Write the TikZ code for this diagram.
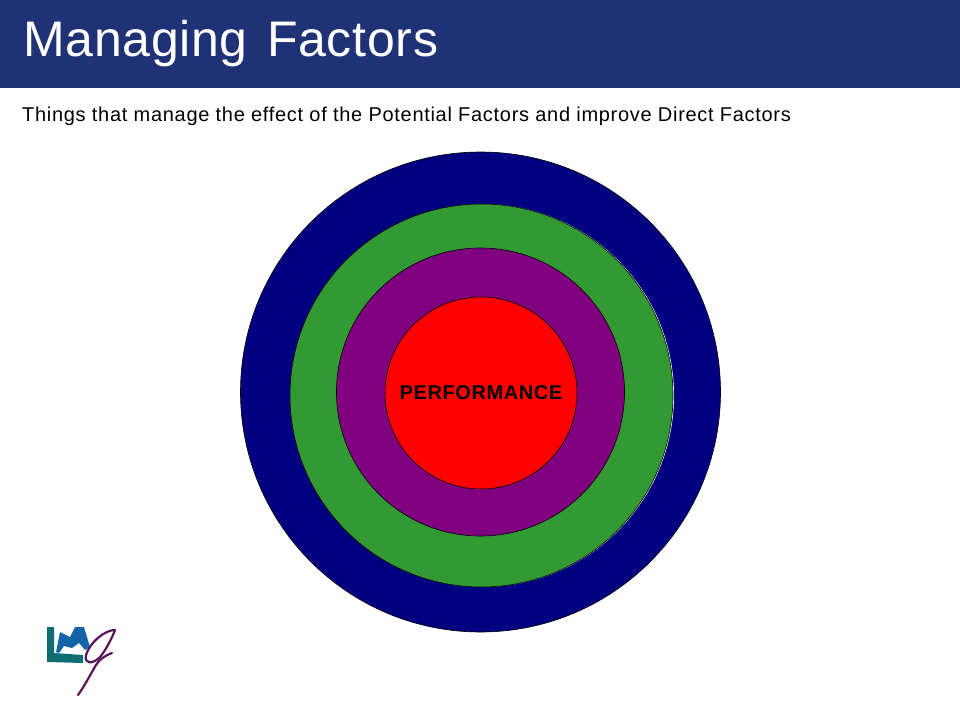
\documentclass[tikz,border=0pt]{standalone}
\usepackage{fontspec}
\setmainfont{Liberation Sans}
\usetikzlibrary{positioning}
\definecolor{bannerblue}{RGB}{31,50,117}
\definecolor{ringblue}{RGB}{0,0,128}
\definecolor{ringgreen}{RGB}{51,153,51}
\definecolor{ringpurple}{RGB}{128,0,128}
\definecolor{logoteal}{RGB}{15,110,115}
\definecolor{logoblue}{RGB}{20,100,170}
\definecolor{logomaroon}{RGB}{90,20,90}
\tikzset{
    ring/.style={circle, draw=black, line width=0.6pt, inner sep=0pt},
    strokeg/.style={draw=logomaroon, line width=2.2pt, line cap=round, line join=round},
}

\begin{document}
\begin{tikzpicture}[x=1pt, y=-1pt]
        \useasboundingbox (0, 0) rectangle (960, 720);
        \fill[bannerblue] (0, 0) rectangle (960, 88);
        \node[anchor=base west, text=white, inner sep=0pt, font=\addfontfeature{LetterSpace=1.4}\fontsize{50}{50}\selectfont] (title) at (23, 56) {Managing\hspace{5pt} Factors};
        \node[anchor=base west, inner sep=0pt, font=\addfontfeature{LetterSpace=3.5}\fontsize{20}{20}\selectfont] (subtitle) at (22, 121.5) {Things that manage the effect of the Potential Factors and improve Direct Factors};

        \node[ring, fill=ringblue, minimum size=480pt] (outer) at (480.5, 392) {}; % outer
        \node[circle, fill=white, inner sep=0pt, minimum size=383pt] (sliver) at (482.5, 395.5) {}; % white edge
        \node[ring, fill=ringgreen, minimum size=383pt] (second) at (481.5, 395.5) {}; % green
        \node[ring, fill=ringpurple, minimum size=288pt] (third) at (480.5, 392) {}; % purple
        \node[ring, fill=red, minimum size=192pt] (core) at (481, 393) {}; % red
        \node[inner sep=0pt, font=\addfontfeature{LetterSpace=3}\bfseries\fontsize{20}{20}\selectfont] (perf) at (481, 393) {PERFORMANCE};

        % logo
        \fill[logoteal] (47, 627) -- (54, 627) -- (54, 653) -- (83, 655) -- (83, 663) -- (47, 662) -- cycle;
        \fill[logoblue] (56, 652) -- (60, 632) -- (70, 637) -- (75, 627) -- (84, 627) -- (90, 647)
            -- (85, 650) -- (79, 643) -- (72, 648) -- (64, 646) -- (59, 653) -- cycle;
        \draw[strokeg] (115, 630) .. controls (105, 630) and (90, 642) .. (86, 655)
            .. controls (84, 665) and (93, 664) .. (100, 657)
            .. controls (106, 650) and (112, 638) .. (115, 630);
        \draw[strokeg] (112, 653) .. controls (104, 656) and (99, 660) .. (96, 665)
            .. controls (90, 675) and (84, 687) .. (78, 695);
    \end{tikzpicture}
\end{document}
